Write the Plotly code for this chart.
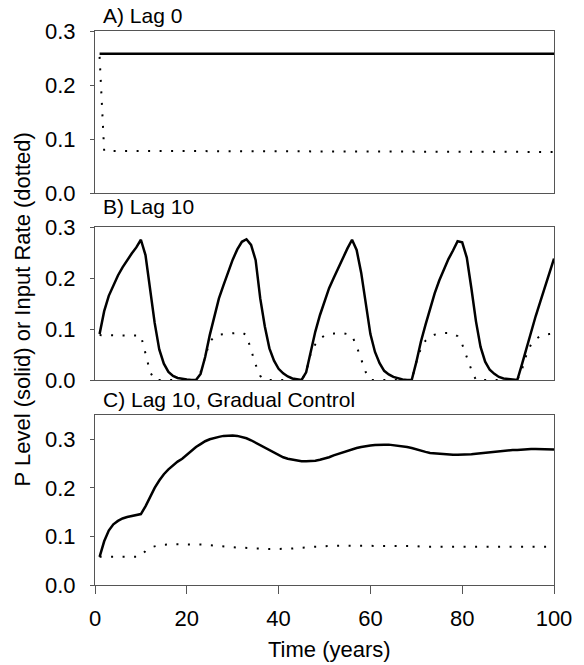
import plotly.graph_objects as go

# ---------------- data ----------------
years = list(range(1, 101))

# Panel A (Lag 0)
a_level_years = [1, 100]
a_level = [0.258, 0.258]
a_input_years = [1, 2, 100]
a_input = [0.252, 0.078, 0.076]

# Panel B (Lag 10)
b_level = [
    0.090, 0.135, 0.165, 0.186, 0.205, 0.221, 0.235, 0.248, 0.260, 0.275,
    0.245, 0.178, 0.112, 0.060, 0.032, 0.016, 0.008, 0.004, 0.002, 0.001,
    0.000, 0.000, 0.012, 0.045, 0.088, 0.127, 0.160, 0.186, 0.212, 0.236,
    0.256, 0.271, 0.276, 0.265, 0.235, 0.160, 0.105, 0.062, 0.038, 0.022,
    0.013, 0.007, 0.003, 0.001, 0.000, 0.015, 0.058, 0.095, 0.127, 0.155,
    0.180, 0.200, 0.220, 0.238, 0.258, 0.275, 0.255, 0.210, 0.145, 0.090,
    0.055, 0.033, 0.018, 0.011, 0.006, 0.003, 0.001, 0.000, 0.000, 0.035,
    0.075, 0.108, 0.140, 0.170, 0.195, 0.218, 0.237, 0.254, 0.272, 0.270,
    0.240, 0.180, 0.115, 0.065, 0.036, 0.020, 0.012, 0.006, 0.003, 0.002,
    0.001, 0.000, 0.030, 0.062, 0.095, 0.125, 0.153, 0.182, 0.210, 0.238,
]
b_input = [
    0.088, 0.088, 0.088, 0.088, 0.088, 0.088, 0.088, 0.088, 0.088, 0.087,
    0.052, 0.016, 0.0, 0.0, 0.0, 0.0, 0.0, 0.0, 0.0, 0.0,
    0.0, 0.0, 0.015, 0.047, 0.075, 0.085, 0.089, 0.090, 0.091, 0.092,
    0.093, 0.093, 0.088, 0.060, 0.030, 0.008, 0.0, 0.0, 0.0, 0.0,
    0.0, 0.0, 0.0, 0.0, 0.0, 0.015, 0.052, 0.070, 0.081, 0.087,
    0.090, 0.091, 0.092, 0.092, 0.090, 0.087, 0.066, 0.040, 0.015, 0.0,
    0.0, 0.0, 0.0, 0.0, 0.0, 0.0, 0.0, 0.0, 0.0, 0.035,
    0.062, 0.077, 0.085, 0.089, 0.091, 0.092, 0.092, 0.091, 0.086, 0.070,
    0.045, 0.020, 0.0, 0.0, 0.0, 0.0, 0.0, 0.0, 0.0, 0.0,
    0.0, 0.0, 0.020, 0.050, 0.070, 0.080, 0.086, 0.089, 0.090, 0.091,
]

# Panel C (Lag 10, Gradual Control)
c_level = [
    0.058, 0.090, 0.112, 0.125, 0.132, 0.137, 0.140, 0.142, 0.144, 0.146,
    0.162, 0.182, 0.200, 0.215, 0.228, 0.238, 0.247, 0.254, 0.260, 0.268,
    0.277, 0.284, 0.290, 0.296, 0.300, 0.303, 0.305, 0.307, 0.308, 0.308,
    0.307, 0.305, 0.302, 0.298, 0.293, 0.288, 0.283, 0.278, 0.272, 0.267,
    0.263, 0.260, 0.258, 0.256, 0.255, 0.255, 0.255, 0.256, 0.258, 0.260,
    0.263, 0.267, 0.270, 0.274, 0.277, 0.280, 0.282, 0.284, 0.286, 0.287,
    0.288, 0.289, 0.289, 0.289, 0.288, 0.287, 0.286, 0.284, 0.282, 0.279,
    0.277, 0.274, 0.272, 0.271, 0.270, 0.269, 0.268, 0.268, 0.268, 0.268,
    0.268, 0.269, 0.270, 0.271, 0.273, 0.274, 0.275, 0.276, 0.277, 0.277,
    0.278, 0.278, 0.279, 0.279, 0.280, 0.280, 0.280, 0.280, 0.280, 0.279,
]
c_input = [
    0.058, 0.058, 0.058, 0.058, 0.058, 0.058, 0.058, 0.058, 0.058, 0.060,
    0.070, 0.077, 0.080, 0.082, 0.083, 0.084, 0.084, 0.084, 0.084, 0.084,
    0.084, 0.084, 0.084, 0.083, 0.082, 0.081, 0.080, 0.079, 0.078, 0.078,
    0.077, 0.077, 0.076, 0.076, 0.075, 0.075, 0.074, 0.074, 0.074, 0.074,
    0.074, 0.075, 0.075, 0.076, 0.077, 0.077, 0.078, 0.079, 0.079, 0.080,
    0.081, 0.081, 0.081, 0.081, 0.081, 0.081, 0.081, 0.081, 0.081, 0.081,
    0.081, 0.081, 0.080, 0.080, 0.080, 0.080, 0.080, 0.080, 0.080, 0.080,
    0.079, 0.079, 0.079, 0.079, 0.079, 0.079, 0.079, 0.079, 0.079, 0.079,
    0.079, 0.079, 0.079, 0.079, 0.079, 0.079, 0.079, 0.079, 0.079, 0.079,
    0.079, 0.079, 0.079, 0.079, 0.079, 0.079, 0.079, 0.079, 0.079, 0.079,
]

x_ticks = [0, 20, 40, 60, 80, 100]
y_ticks = [0.0, 0.1, 0.2, 0.3]
panel_titles = ["A) Lag 0", "B) Lag 10", "C) Lag 10, Gradual Control"]
y_title = "P Level (solid) or Input Rate (dotted)"
x_title = "Time (years)"

# ---------------- figure ----------------
FONT = "Liberation Sans, Arial, sans-serif"
solid = dict(color="black", width=2.5)
dotted = dict(color="black", width=2, dash="2px,9.5px")

fig = go.Figure()
fig.add_trace(go.Scatter(x=a_level_years, y=a_level, mode="lines", line=solid, xaxis="x", yaxis="y"))
fig.add_trace(go.Scatter(x=a_input_years, y=a_input, mode="lines", line=dotted, xaxis="x", yaxis="y"))
fig.add_trace(go.Scatter(x=years, y=b_level, mode="lines", line=solid, xaxis="x2", yaxis="y2"))
fig.add_trace(go.Scatter(x=years, y=b_input, mode="lines", line=dotted, xaxis="x2", yaxis="y2"))
fig.add_trace(go.Scatter(x=years, y=c_level, mode="lines", line=solid, xaxis="x3", yaxis="y3"))
fig.add_trace(go.Scatter(x=years, y=c_input, mode="lines", line=dotted, xaxis="x3", yaxis="y3"))

axis_line = dict(showline=True, mirror=True, linecolor="#555", linewidth=1,
                 showgrid=False, zeroline=False)

def xax(anchor, show):
    d = dict(axis_line, anchor=anchor, range=[0, 100], tickvals=x_ticks,
             showticklabels=show)
    if show:
        d.update(ticks="outside", ticklen=8, tickcolor="#555",
                 tickfont=dict(family=FONT, size=22, color="black"),
                 ticklabelstandoff=6)
    else:
        d.update(ticks="")
    return d

def yax(anchor, dom, rng):
    return dict(axis_line, anchor=anchor, domain=dom, range=rng, tickvals=y_ticks,
                tickformat=".1f", ticks="outside", ticklen=4, tickcolor="#555",
                tickfont=dict(family=FONT, size=22, color="black"),
                ticklabelstandoff=10)

TOP = 31
BOT = 585
H_PLOT = float(BOT - TOP)

def dom(top_px, bot_px):
    lo = max(0.0, (BOT - bot_px) / H_PLOT)
    hi = min(1.0, (BOT - top_px) / H_PLOT)
    return [lo, hi]

fig.update_layout(
    width=584, height=665,
    margin=dict(l=95, r=21, t=TOP, b=665 - BOT),
    paper_bgcolor="white", plot_bgcolor="white",
    showlegend=False,
    font=dict(family=FONT, color="black"),
    xaxis=xax("y", False),
    xaxis2=xax("y2", False),
    xaxis3=xax("y3", True),
    yaxis=yax("x", dom(31, 193), [0, 0.3]),
    yaxis2=yax("x2", dom(227, 380), [0, 0.3]),
    yaxis3=yax("x3", dom(415, 585), [0, 0.35]),
)

title_y_px = [15, 207, 399]
for t, ypx in zip(panel_titles, title_y_px):
    fig.add_annotation(text=t, xref="paper", yref="paper",
                       x=(101 - 95) / 468.0, y=(BOT - ypx) / H_PLOT,
                       xanchor="left", yanchor="middle", showarrow=False,
                       font=dict(family=FONT, size=21, color="black"))

fig.add_annotation(text=y_title, xref="paper", yref="paper",
                   x=(21 - 95) / 468.0, y=(BOT - 309) / H_PLOT,
                   xanchor="center", yanchor="middle", textangle=-90,
                   showarrow=False, font=dict(family=FONT, size=22, color="black"))
fig.add_annotation(text=x_title, xref="paper", yref="paper",
                   x=(334 - 95) / 468.0, y=(BOT - 650) / H_PLOT,
                   xanchor="center", yanchor="middle", showarrow=False,
                   font=dict(family=FONT, size=22, color="black"))

fig.write_html("out.html", config={"displayModeBar": False},
               post_script="document.body.style.margin='0';")
